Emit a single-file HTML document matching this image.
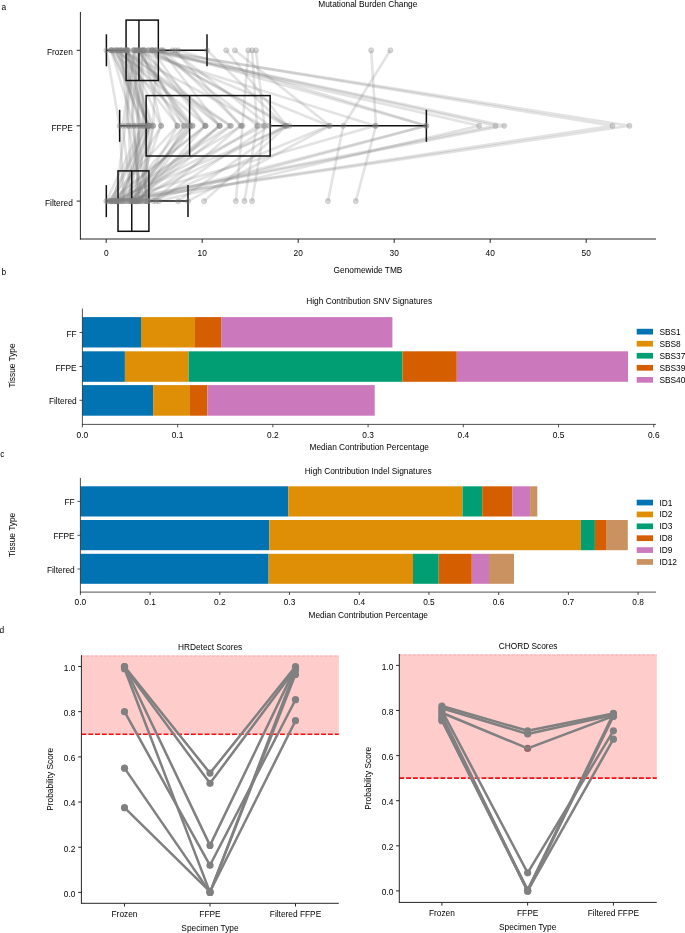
<!DOCTYPE html>
<html><head><meta charset="utf-8"><style>
html,body{margin:0;padding:0;background:#fff;width:685px;height:933px;overflow:hidden}
svg{display:block;will-change:transform}
text{font-family:"Liberation Sans", sans-serif;fill:#000}
</style></head><body>
<svg width="685" height="933" viewBox="0 0 685 933">
<rect width="685" height="933" fill="#fff"/>
<text x="1.50" y="9.90" text-anchor="start" font-size="8.33" >a</text>
<text x="367.80" y="6.50" text-anchor="middle" font-size="8.33" >Mutational Burden Change</text>
<polyline points="371.16,50.3 375.96,125.8 355.80,201.1" fill="none" stroke="rgba(128,128,128,0.22)" stroke-width="2.6" stroke-linejoin="round"/>
<polyline points="390.36,50.3 343.32,125.8 327.96,201.1" fill="none" stroke="rgba(128,128,128,0.22)" stroke-width="2.6" stroke-linejoin="round"/>
<polyline points="255.96,50.3 264.60,125.8 252.12,201.1" fill="none" stroke="rgba(128,128,128,0.22)" stroke-width="2.6" stroke-linejoin="round"/>
<polyline points="252.12,50.3 256.92,125.8 244.44,201.1" fill="none" stroke="rgba(128,128,128,0.22)" stroke-width="2.6" stroke-linejoin="round"/>
<polyline points="248.28,50.3 242.52,125.8 235.80,201.1" fill="none" stroke="rgba(128,128,128,0.22)" stroke-width="2.6" stroke-linejoin="round"/>
<polyline points="226.20,50.3 286.68,125.8 204.12,201.1" fill="none" stroke="rgba(128,128,128,0.22)" stroke-width="2.6" stroke-linejoin="round"/>
<polyline points="234.84,50.3 329.88,125.8 187.99,201.1" fill="none" stroke="rgba(128,128,128,0.22)" stroke-width="2.6" stroke-linejoin="round"/>
<polyline points="155.16,50.3 612.41,125.8 117.24,201.1" fill="none" stroke="rgba(128,128,128,0.22)" stroke-width="2.6" stroke-linejoin="round"/>
<polyline points="152.76,50.3 629.40,125.8 116.28,201.1" fill="none" stroke="rgba(128,128,128,0.22)" stroke-width="2.6" stroke-linejoin="round"/>
<polyline points="151.80,50.3 495.58,125.8 115.32,201.1" fill="none" stroke="rgba(128,128,128,0.22)" stroke-width="2.6" stroke-linejoin="round"/>
<polyline points="150.36,50.3 504.22,125.8 117.72,201.1" fill="none" stroke="rgba(128,128,128,0.22)" stroke-width="2.6" stroke-linejoin="round"/>
<polyline points="148.44,50.3 479.16,125.8 159.00,201.1" fill="none" stroke="rgba(128,128,128,0.22)" stroke-width="2.6" stroke-linejoin="round"/>
<polyline points="178.20,50.3 426.36,125.8 146.52,201.1" fill="none" stroke="rgba(128,128,128,0.22)" stroke-width="2.6" stroke-linejoin="round"/>
<polyline points="207.00,50.3 284.76,125.8 178.20,201.1" fill="none" stroke="rgba(128,128,128,0.22)" stroke-width="2.6" stroke-linejoin="round"/>
<polyline points="175.32,50.3 240.60,125.8 153.24,201.1" fill="none" stroke="rgba(128,128,128,0.22)" stroke-width="2.6" stroke-linejoin="round"/>
<polyline points="172.44,50.3 269.40,125.8 156.12,201.1" fill="none" stroke="rgba(128,128,128,0.22)" stroke-width="2.6" stroke-linejoin="round"/>
<polyline points="117.24,50.3 205.56,125.8 109.08,201.1" fill="none" stroke="rgba(128,128,128,0.22)" stroke-width="2.6" stroke-linejoin="round"/>
<polyline points="128.28,50.3 160.92,125.8 134.04,201.1" fill="none" stroke="rgba(128,128,128,0.22)" stroke-width="2.6" stroke-linejoin="round"/>
<polyline points="113.88,50.3 230.04,125.8 111.96,201.1" fill="none" stroke="rgba(128,128,128,0.22)" stroke-width="2.6" stroke-linejoin="round"/>
<polyline points="138.84,50.3 189.72,125.8 130.68,201.1" fill="none" stroke="rgba(128,128,128,0.22)" stroke-width="2.6" stroke-linejoin="round"/>
<polyline points="140.76,50.3 219.48,125.8 135.96,201.1" fill="none" stroke="rgba(128,128,128,0.22)" stroke-width="2.6" stroke-linejoin="round"/>
<polyline points="136.92,50.3 192.60,125.8 125.40,201.1" fill="none" stroke="rgba(128,128,128,0.22)" stroke-width="2.6" stroke-linejoin="round"/>
<polyline points="118.68,50.3 139.80,125.8 129.72,201.1" fill="none" stroke="rgba(128,128,128,0.22)" stroke-width="2.6" stroke-linejoin="round"/>
<polyline points="127.32,50.3 145.56,125.8 145.56,201.1" fill="none" stroke="rgba(128,128,128,0.22)" stroke-width="2.6" stroke-linejoin="round"/>
<polyline points="124.92,50.3 219.96,125.8 128.28,201.1" fill="none" stroke="rgba(128,128,128,0.22)" stroke-width="2.6" stroke-linejoin="round"/>
<polyline points="126.36,50.3 151.32,125.8 119.64,201.1" fill="none" stroke="rgba(128,128,128,0.22)" stroke-width="2.6" stroke-linejoin="round"/>
<polyline points="139.80,50.3 177.24,125.8 107.64,201.1" fill="none" stroke="rgba(128,128,128,0.22)" stroke-width="2.6" stroke-linejoin="round"/>
<polyline points="111.96,50.3 143.64,125.8 122.52,201.1" fill="none" stroke="rgba(128,128,128,0.22)" stroke-width="2.6" stroke-linejoin="round"/>
<polyline points="143.64,50.3 183.96,125.8 121.08,201.1" fill="none" stroke="rgba(128,128,128,0.22)" stroke-width="2.6" stroke-linejoin="round"/>
<polyline points="156.12,50.3 153.24,125.8 141.72,201.1" fill="none" stroke="rgba(128,128,128,0.22)" stroke-width="2.6" stroke-linejoin="round"/>
<polyline points="111.00,50.3 148.44,125.8 126.84,201.1" fill="none" stroke="rgba(128,128,128,0.22)" stroke-width="2.6" stroke-linejoin="round"/>
<polyline points="135.96,50.3 146.52,125.8 113.40,201.1" fill="none" stroke="rgba(128,128,128,0.22)" stroke-width="2.6" stroke-linejoin="round"/>
<polyline points="120.12,50.3 149.40,125.8 118.20,201.1" fill="none" stroke="rgba(128,128,128,0.22)" stroke-width="2.6" stroke-linejoin="round"/>
<polyline points="135.00,50.3 125.40,125.8 114.84,201.1" fill="none" stroke="rgba(128,128,128,0.22)" stroke-width="2.6" stroke-linejoin="round"/>
<polyline points="137.88,50.3 187.80,125.8 132.12,201.1" fill="none" stroke="rgba(128,128,128,0.22)" stroke-width="2.6" stroke-linejoin="round"/>
<polyline points="106.39,50.3 119.64,125.8 123.96,201.1" fill="none" stroke="rgba(128,128,128,0.22)" stroke-width="2.6" stroke-linejoin="round"/>
<polyline points="134.04,50.3 122.52,125.8 131.64,201.1" fill="none" stroke="rgba(128,128,128,0.22)" stroke-width="2.6" stroke-linejoin="round"/>
<polyline points="138.36,50.3 131.16,125.8 148.44,201.1" fill="none" stroke="rgba(128,128,128,0.22)" stroke-width="2.6" stroke-linejoin="round"/>
<polyline points="145.08,50.3 205.08,125.8 137.88,201.1" fill="none" stroke="rgba(128,128,128,0.22)" stroke-width="2.6" stroke-linejoin="round"/>
<polyline points="115.80,50.3 141.72,125.8 106.30,201.1" fill="none" stroke="rgba(128,128,128,0.22)" stroke-width="2.6" stroke-linejoin="round"/>
<polyline points="142.20,50.3 136.92,125.8 147.48,201.1" fill="none" stroke="rgba(128,128,128,0.22)" stroke-width="2.6" stroke-linejoin="round"/>
<polyline points="126.84,50.3 134.04,125.8 139.80,201.1" fill="none" stroke="rgba(128,128,128,0.22)" stroke-width="2.6" stroke-linejoin="round"/>
<polyline points="125.40,50.3 147.48,125.8 110.52,201.1" fill="none" stroke="rgba(128,128,128,0.22)" stroke-width="2.6" stroke-linejoin="round"/>
<polyline points="121.56,50.3 128.28,125.8 143.64,201.1" fill="none" stroke="rgba(128,128,128,0.22)" stroke-width="2.6" stroke-linejoin="round"/>
<polyline points="126.42,50.3 128.88,125.8 131.32,201.1" fill="none" stroke="rgba(128,128,128,0.22)" stroke-width="2.6" stroke-linejoin="round"/>
<polyline points="111.21,50.3 134.00,125.8 139.08,201.1" fill="none" stroke="rgba(128,128,128,0.22)" stroke-width="2.6" stroke-linejoin="round"/>
<polyline points="134.06,50.3 139.08,125.8 136.34,201.1" fill="none" stroke="rgba(128,128,128,0.22)" stroke-width="2.6" stroke-linejoin="round"/>
<polyline points="142.13,50.3 143.45,125.8 110.91,201.1" fill="none" stroke="rgba(128,128,128,0.22)" stroke-width="2.6" stroke-linejoin="round"/>
<polyline points="115.45,50.3 148.69,125.8 145.61,201.1" fill="none" stroke="rgba(128,128,128,0.22)" stroke-width="2.6" stroke-linejoin="round"/>
<polyline points="117.31,50.3 148.95,125.8 133.17,201.1" fill="none" stroke="rgba(128,128,128,0.22)" stroke-width="2.6" stroke-linejoin="round"/>
<polyline points="127.74,50.3 152.93,125.8 137.78,201.1" fill="none" stroke="rgba(128,128,128,0.22)" stroke-width="2.6" stroke-linejoin="round"/>
<polyline points="143.25,50.3 161.26,125.8 116.19,201.1" fill="none" stroke="rgba(128,128,128,0.22)" stroke-width="2.6" stroke-linejoin="round"/>
<polyline points="120.04,50.3 177.75,125.8 134.31,201.1" fill="none" stroke="rgba(128,128,128,0.22)" stroke-width="2.6" stroke-linejoin="round"/>
<polyline points="125.36,50.3 184.24,125.8 141.01,201.1" fill="none" stroke="rgba(128,128,128,0.22)" stroke-width="2.6" stroke-linejoin="round"/>
<polyline points="111.11,50.3 192.49,125.8 138.48,201.1" fill="none" stroke="rgba(128,128,128,0.22)" stroke-width="2.6" stroke-linejoin="round"/>
<polyline points="152.65,50.3 205.66,125.8 111.38,201.1" fill="none" stroke="rgba(128,128,128,0.22)" stroke-width="2.6" stroke-linejoin="round"/>
<polyline points="152.24,50.3 285.72,125.8 132.55,201.1" fill="none" stroke="rgba(128,128,128,0.22)" stroke-width="2.6" stroke-linejoin="round"/>
<polyline points="148.48,50.3 289.56,125.8 111.71,201.1" fill="none" stroke="rgba(128,128,128,0.22)" stroke-width="2.6" stroke-linejoin="round"/>
<polyline points="144.30,50.3 328.92,125.8 147.67,201.1" fill="none" stroke="rgba(128,128,128,0.22)" stroke-width="2.6" stroke-linejoin="round"/>
<polyline points="133.36,50.3 375.00,125.8 112.65,201.1" fill="none" stroke="rgba(128,128,128,0.22)" stroke-width="2.6" stroke-linejoin="round"/>
<polyline points="161.60,50.3 425.88,125.8 135.38,201.1" fill="none" stroke="rgba(128,128,128,0.22)" stroke-width="2.6" stroke-linejoin="round"/>
<polyline points="121.41,50.3 231.00,125.8 135.22,201.1" fill="none" stroke="rgba(128,128,128,0.22)" stroke-width="2.6" stroke-linejoin="round"/>
<polyline points="163.42,50.3 241.56,125.8 116.57,201.1" fill="none" stroke="rgba(128,128,128,0.22)" stroke-width="2.6" stroke-linejoin="round"/>
<polyline points="156.08,50.3 257.88,125.8 136.30,201.1" fill="none" stroke="rgba(128,128,128,0.22)" stroke-width="2.6" stroke-linejoin="round"/>
<polyline points="122.70,50.3 263.64,125.8 115.57,201.1" fill="none" stroke="rgba(128,128,128,0.22)" stroke-width="2.6" stroke-linejoin="round"/>
<polyline points="161.38,50.3 219.48,125.8 121.85,201.1" fill="none" stroke="rgba(128,128,128,0.22)" stroke-width="2.6" stroke-linejoin="round"/>
<line x1="106.39" y1="50.30" x2="126.07" y2="50.30" stroke="#111" stroke-width="1.5" />
<line x1="158.33" y1="50.30" x2="207.00" y2="50.30" stroke="#111" stroke-width="1.5" />
<rect x="126.07" y="20.10" width="32.26" height="60.40" fill="none" stroke="#111" stroke-width="1.5"/>
<line x1="138.94" y1="20.10" x2="138.94" y2="80.50" stroke="#111" stroke-width="1.5" />
<line x1="106.39" y1="34.30" x2="106.39" y2="66.30" stroke="#111" stroke-width="1.5" />
<line x1="207.00" y1="34.30" x2="207.00" y2="66.30" stroke="#111" stroke-width="1.5" />
<line x1="119.64" y1="125.80" x2="146.14" y2="125.80" stroke="#111" stroke-width="1.5" />
<line x1="270.17" y1="125.80" x2="426.36" y2="125.80" stroke="#111" stroke-width="1.5" />
<rect x="146.14" y="95.60" width="124.03" height="60.40" fill="none" stroke="#111" stroke-width="1.5"/>
<line x1="189.62" y1="95.60" x2="189.62" y2="156.00" stroke="#111" stroke-width="1.5" />
<line x1="119.64" y1="109.80" x2="119.64" y2="141.80" stroke="#111" stroke-width="1.5" />
<line x1="426.36" y1="109.80" x2="426.36" y2="141.80" stroke="#111" stroke-width="1.5" />
<line x1="106.30" y1="201.10" x2="118.01" y2="201.10" stroke="#111" stroke-width="1.5" />
<line x1="148.92" y1="201.10" x2="187.99" y2="201.10" stroke="#111" stroke-width="1.5" />
<rect x="118.01" y="170.90" width="30.91" height="60.40" fill="none" stroke="#111" stroke-width="1.5"/>
<line x1="131.74" y1="170.90" x2="131.74" y2="231.30" stroke="#111" stroke-width="1.5" />
<line x1="106.30" y1="185.10" x2="106.30" y2="217.10" stroke="#111" stroke-width="1.5" />
<line x1="187.99" y1="185.10" x2="187.99" y2="217.10" stroke="#111" stroke-width="1.5" />
<circle cx="371.16" cy="50.3" r="2.6" fill="rgba(128,128,128,0.3)" stroke="rgba(128,128,128,0.3)" stroke-width="0.8"/>
<circle cx="375.96" cy="125.8" r="2.6" fill="rgba(128,128,128,0.3)" stroke="rgba(128,128,128,0.3)" stroke-width="0.8"/>
<circle cx="355.80" cy="201.1" r="2.6" fill="rgba(128,128,128,0.3)" stroke="rgba(128,128,128,0.3)" stroke-width="0.8"/>
<circle cx="390.36" cy="50.3" r="2.6" fill="rgba(128,128,128,0.3)" stroke="rgba(128,128,128,0.3)" stroke-width="0.8"/>
<circle cx="343.32" cy="125.8" r="2.6" fill="rgba(128,128,128,0.3)" stroke="rgba(128,128,128,0.3)" stroke-width="0.8"/>
<circle cx="327.96" cy="201.1" r="2.6" fill="rgba(128,128,128,0.3)" stroke="rgba(128,128,128,0.3)" stroke-width="0.8"/>
<circle cx="255.96" cy="50.3" r="2.6" fill="rgba(128,128,128,0.3)" stroke="rgba(128,128,128,0.3)" stroke-width="0.8"/>
<circle cx="264.60" cy="125.8" r="2.6" fill="rgba(128,128,128,0.3)" stroke="rgba(128,128,128,0.3)" stroke-width="0.8"/>
<circle cx="252.12" cy="201.1" r="2.6" fill="rgba(128,128,128,0.3)" stroke="rgba(128,128,128,0.3)" stroke-width="0.8"/>
<circle cx="252.12" cy="50.3" r="2.6" fill="rgba(128,128,128,0.3)" stroke="rgba(128,128,128,0.3)" stroke-width="0.8"/>
<circle cx="256.92" cy="125.8" r="2.6" fill="rgba(128,128,128,0.3)" stroke="rgba(128,128,128,0.3)" stroke-width="0.8"/>
<circle cx="244.44" cy="201.1" r="2.6" fill="rgba(128,128,128,0.3)" stroke="rgba(128,128,128,0.3)" stroke-width="0.8"/>
<circle cx="248.28" cy="50.3" r="2.6" fill="rgba(128,128,128,0.3)" stroke="rgba(128,128,128,0.3)" stroke-width="0.8"/>
<circle cx="242.52" cy="125.8" r="2.6" fill="rgba(128,128,128,0.3)" stroke="rgba(128,128,128,0.3)" stroke-width="0.8"/>
<circle cx="235.80" cy="201.1" r="2.6" fill="rgba(128,128,128,0.3)" stroke="rgba(128,128,128,0.3)" stroke-width="0.8"/>
<circle cx="226.20" cy="50.3" r="2.6" fill="rgba(128,128,128,0.3)" stroke="rgba(128,128,128,0.3)" stroke-width="0.8"/>
<circle cx="286.68" cy="125.8" r="2.6" fill="rgba(128,128,128,0.3)" stroke="rgba(128,128,128,0.3)" stroke-width="0.8"/>
<circle cx="204.12" cy="201.1" r="2.6" fill="rgba(128,128,128,0.3)" stroke="rgba(128,128,128,0.3)" stroke-width="0.8"/>
<circle cx="234.84" cy="50.3" r="2.6" fill="rgba(128,128,128,0.3)" stroke="rgba(128,128,128,0.3)" stroke-width="0.8"/>
<circle cx="329.88" cy="125.8" r="2.6" fill="rgba(128,128,128,0.3)" stroke="rgba(128,128,128,0.3)" stroke-width="0.8"/>
<circle cx="187.99" cy="201.1" r="2.6" fill="rgba(128,128,128,0.3)" stroke="rgba(128,128,128,0.3)" stroke-width="0.8"/>
<circle cx="155.16" cy="50.3" r="2.6" fill="rgba(128,128,128,0.3)" stroke="rgba(128,128,128,0.3)" stroke-width="0.8"/>
<circle cx="612.41" cy="125.8" r="2.6" fill="rgba(128,128,128,0.3)" stroke="rgba(128,128,128,0.3)" stroke-width="0.8"/>
<circle cx="117.24" cy="201.1" r="2.6" fill="rgba(128,128,128,0.3)" stroke="rgba(128,128,128,0.3)" stroke-width="0.8"/>
<circle cx="152.76" cy="50.3" r="2.6" fill="rgba(128,128,128,0.3)" stroke="rgba(128,128,128,0.3)" stroke-width="0.8"/>
<circle cx="629.40" cy="125.8" r="2.6" fill="rgba(128,128,128,0.3)" stroke="rgba(128,128,128,0.3)" stroke-width="0.8"/>
<circle cx="116.28" cy="201.1" r="2.6" fill="rgba(128,128,128,0.3)" stroke="rgba(128,128,128,0.3)" stroke-width="0.8"/>
<circle cx="151.80" cy="50.3" r="2.6" fill="rgba(128,128,128,0.3)" stroke="rgba(128,128,128,0.3)" stroke-width="0.8"/>
<circle cx="495.58" cy="125.8" r="2.6" fill="rgba(128,128,128,0.3)" stroke="rgba(128,128,128,0.3)" stroke-width="0.8"/>
<circle cx="115.32" cy="201.1" r="2.6" fill="rgba(128,128,128,0.3)" stroke="rgba(128,128,128,0.3)" stroke-width="0.8"/>
<circle cx="150.36" cy="50.3" r="2.6" fill="rgba(128,128,128,0.3)" stroke="rgba(128,128,128,0.3)" stroke-width="0.8"/>
<circle cx="504.22" cy="125.8" r="2.6" fill="rgba(128,128,128,0.3)" stroke="rgba(128,128,128,0.3)" stroke-width="0.8"/>
<circle cx="117.72" cy="201.1" r="2.6" fill="rgba(128,128,128,0.3)" stroke="rgba(128,128,128,0.3)" stroke-width="0.8"/>
<circle cx="148.44" cy="50.3" r="2.6" fill="rgba(128,128,128,0.3)" stroke="rgba(128,128,128,0.3)" stroke-width="0.8"/>
<circle cx="479.16" cy="125.8" r="2.6" fill="rgba(128,128,128,0.3)" stroke="rgba(128,128,128,0.3)" stroke-width="0.8"/>
<circle cx="159.00" cy="201.1" r="2.6" fill="rgba(128,128,128,0.3)" stroke="rgba(128,128,128,0.3)" stroke-width="0.8"/>
<circle cx="178.20" cy="50.3" r="2.6" fill="rgba(128,128,128,0.3)" stroke="rgba(128,128,128,0.3)" stroke-width="0.8"/>
<circle cx="426.36" cy="125.8" r="2.6" fill="rgba(128,128,128,0.3)" stroke="rgba(128,128,128,0.3)" stroke-width="0.8"/>
<circle cx="146.52" cy="201.1" r="2.6" fill="rgba(128,128,128,0.3)" stroke="rgba(128,128,128,0.3)" stroke-width="0.8"/>
<circle cx="207.00" cy="50.3" r="2.6" fill="rgba(128,128,128,0.3)" stroke="rgba(128,128,128,0.3)" stroke-width="0.8"/>
<circle cx="284.76" cy="125.8" r="2.6" fill="rgba(128,128,128,0.3)" stroke="rgba(128,128,128,0.3)" stroke-width="0.8"/>
<circle cx="178.20" cy="201.1" r="2.6" fill="rgba(128,128,128,0.3)" stroke="rgba(128,128,128,0.3)" stroke-width="0.8"/>
<circle cx="175.32" cy="50.3" r="2.6" fill="rgba(128,128,128,0.3)" stroke="rgba(128,128,128,0.3)" stroke-width="0.8"/>
<circle cx="240.60" cy="125.8" r="2.6" fill="rgba(128,128,128,0.3)" stroke="rgba(128,128,128,0.3)" stroke-width="0.8"/>
<circle cx="153.24" cy="201.1" r="2.6" fill="rgba(128,128,128,0.3)" stroke="rgba(128,128,128,0.3)" stroke-width="0.8"/>
<circle cx="172.44" cy="50.3" r="2.6" fill="rgba(128,128,128,0.3)" stroke="rgba(128,128,128,0.3)" stroke-width="0.8"/>
<circle cx="269.40" cy="125.8" r="2.6" fill="rgba(128,128,128,0.3)" stroke="rgba(128,128,128,0.3)" stroke-width="0.8"/>
<circle cx="156.12" cy="201.1" r="2.6" fill="rgba(128,128,128,0.3)" stroke="rgba(128,128,128,0.3)" stroke-width="0.8"/>
<circle cx="117.24" cy="50.3" r="2.6" fill="rgba(128,128,128,0.3)" stroke="rgba(128,128,128,0.3)" stroke-width="0.8"/>
<circle cx="205.56" cy="125.8" r="2.6" fill="rgba(128,128,128,0.3)" stroke="rgba(128,128,128,0.3)" stroke-width="0.8"/>
<circle cx="109.08" cy="201.1" r="2.6" fill="rgba(128,128,128,0.3)" stroke="rgba(128,128,128,0.3)" stroke-width="0.8"/>
<circle cx="128.28" cy="50.3" r="2.6" fill="rgba(128,128,128,0.3)" stroke="rgba(128,128,128,0.3)" stroke-width="0.8"/>
<circle cx="160.92" cy="125.8" r="2.6" fill="rgba(128,128,128,0.3)" stroke="rgba(128,128,128,0.3)" stroke-width="0.8"/>
<circle cx="134.04" cy="201.1" r="2.6" fill="rgba(128,128,128,0.3)" stroke="rgba(128,128,128,0.3)" stroke-width="0.8"/>
<circle cx="113.88" cy="50.3" r="2.6" fill="rgba(128,128,128,0.3)" stroke="rgba(128,128,128,0.3)" stroke-width="0.8"/>
<circle cx="230.04" cy="125.8" r="2.6" fill="rgba(128,128,128,0.3)" stroke="rgba(128,128,128,0.3)" stroke-width="0.8"/>
<circle cx="111.96" cy="201.1" r="2.6" fill="rgba(128,128,128,0.3)" stroke="rgba(128,128,128,0.3)" stroke-width="0.8"/>
<circle cx="138.84" cy="50.3" r="2.6" fill="rgba(128,128,128,0.3)" stroke="rgba(128,128,128,0.3)" stroke-width="0.8"/>
<circle cx="189.72" cy="125.8" r="2.6" fill="rgba(128,128,128,0.3)" stroke="rgba(128,128,128,0.3)" stroke-width="0.8"/>
<circle cx="130.68" cy="201.1" r="2.6" fill="rgba(128,128,128,0.3)" stroke="rgba(128,128,128,0.3)" stroke-width="0.8"/>
<circle cx="140.76" cy="50.3" r="2.6" fill="rgba(128,128,128,0.3)" stroke="rgba(128,128,128,0.3)" stroke-width="0.8"/>
<circle cx="219.48" cy="125.8" r="2.6" fill="rgba(128,128,128,0.3)" stroke="rgba(128,128,128,0.3)" stroke-width="0.8"/>
<circle cx="135.96" cy="201.1" r="2.6" fill="rgba(128,128,128,0.3)" stroke="rgba(128,128,128,0.3)" stroke-width="0.8"/>
<circle cx="136.92" cy="50.3" r="2.6" fill="rgba(128,128,128,0.3)" stroke="rgba(128,128,128,0.3)" stroke-width="0.8"/>
<circle cx="192.60" cy="125.8" r="2.6" fill="rgba(128,128,128,0.3)" stroke="rgba(128,128,128,0.3)" stroke-width="0.8"/>
<circle cx="125.40" cy="201.1" r="2.6" fill="rgba(128,128,128,0.3)" stroke="rgba(128,128,128,0.3)" stroke-width="0.8"/>
<circle cx="118.68" cy="50.3" r="2.6" fill="rgba(128,128,128,0.3)" stroke="rgba(128,128,128,0.3)" stroke-width="0.8"/>
<circle cx="139.80" cy="125.8" r="2.6" fill="rgba(128,128,128,0.3)" stroke="rgba(128,128,128,0.3)" stroke-width="0.8"/>
<circle cx="129.72" cy="201.1" r="2.6" fill="rgba(128,128,128,0.3)" stroke="rgba(128,128,128,0.3)" stroke-width="0.8"/>
<circle cx="127.32" cy="50.3" r="2.6" fill="rgba(128,128,128,0.3)" stroke="rgba(128,128,128,0.3)" stroke-width="0.8"/>
<circle cx="145.56" cy="125.8" r="2.6" fill="rgba(128,128,128,0.3)" stroke="rgba(128,128,128,0.3)" stroke-width="0.8"/>
<circle cx="145.56" cy="201.1" r="2.6" fill="rgba(128,128,128,0.3)" stroke="rgba(128,128,128,0.3)" stroke-width="0.8"/>
<circle cx="124.92" cy="50.3" r="2.6" fill="rgba(128,128,128,0.3)" stroke="rgba(128,128,128,0.3)" stroke-width="0.8"/>
<circle cx="219.96" cy="125.8" r="2.6" fill="rgba(128,128,128,0.3)" stroke="rgba(128,128,128,0.3)" stroke-width="0.8"/>
<circle cx="128.28" cy="201.1" r="2.6" fill="rgba(128,128,128,0.3)" stroke="rgba(128,128,128,0.3)" stroke-width="0.8"/>
<circle cx="126.36" cy="50.3" r="2.6" fill="rgba(128,128,128,0.3)" stroke="rgba(128,128,128,0.3)" stroke-width="0.8"/>
<circle cx="151.32" cy="125.8" r="2.6" fill="rgba(128,128,128,0.3)" stroke="rgba(128,128,128,0.3)" stroke-width="0.8"/>
<circle cx="119.64" cy="201.1" r="2.6" fill="rgba(128,128,128,0.3)" stroke="rgba(128,128,128,0.3)" stroke-width="0.8"/>
<circle cx="139.80" cy="50.3" r="2.6" fill="rgba(128,128,128,0.3)" stroke="rgba(128,128,128,0.3)" stroke-width="0.8"/>
<circle cx="177.24" cy="125.8" r="2.6" fill="rgba(128,128,128,0.3)" stroke="rgba(128,128,128,0.3)" stroke-width="0.8"/>
<circle cx="107.64" cy="201.1" r="2.6" fill="rgba(128,128,128,0.3)" stroke="rgba(128,128,128,0.3)" stroke-width="0.8"/>
<circle cx="111.96" cy="50.3" r="2.6" fill="rgba(128,128,128,0.3)" stroke="rgba(128,128,128,0.3)" stroke-width="0.8"/>
<circle cx="143.64" cy="125.8" r="2.6" fill="rgba(128,128,128,0.3)" stroke="rgba(128,128,128,0.3)" stroke-width="0.8"/>
<circle cx="122.52" cy="201.1" r="2.6" fill="rgba(128,128,128,0.3)" stroke="rgba(128,128,128,0.3)" stroke-width="0.8"/>
<circle cx="143.64" cy="50.3" r="2.6" fill="rgba(128,128,128,0.3)" stroke="rgba(128,128,128,0.3)" stroke-width="0.8"/>
<circle cx="183.96" cy="125.8" r="2.6" fill="rgba(128,128,128,0.3)" stroke="rgba(128,128,128,0.3)" stroke-width="0.8"/>
<circle cx="121.08" cy="201.1" r="2.6" fill="rgba(128,128,128,0.3)" stroke="rgba(128,128,128,0.3)" stroke-width="0.8"/>
<circle cx="156.12" cy="50.3" r="2.6" fill="rgba(128,128,128,0.3)" stroke="rgba(128,128,128,0.3)" stroke-width="0.8"/>
<circle cx="153.24" cy="125.8" r="2.6" fill="rgba(128,128,128,0.3)" stroke="rgba(128,128,128,0.3)" stroke-width="0.8"/>
<circle cx="141.72" cy="201.1" r="2.6" fill="rgba(128,128,128,0.3)" stroke="rgba(128,128,128,0.3)" stroke-width="0.8"/>
<circle cx="111.00" cy="50.3" r="2.6" fill="rgba(128,128,128,0.3)" stroke="rgba(128,128,128,0.3)" stroke-width="0.8"/>
<circle cx="148.44" cy="125.8" r="2.6" fill="rgba(128,128,128,0.3)" stroke="rgba(128,128,128,0.3)" stroke-width="0.8"/>
<circle cx="126.84" cy="201.1" r="2.6" fill="rgba(128,128,128,0.3)" stroke="rgba(128,128,128,0.3)" stroke-width="0.8"/>
<circle cx="135.96" cy="50.3" r="2.6" fill="rgba(128,128,128,0.3)" stroke="rgba(128,128,128,0.3)" stroke-width="0.8"/>
<circle cx="146.52" cy="125.8" r="2.6" fill="rgba(128,128,128,0.3)" stroke="rgba(128,128,128,0.3)" stroke-width="0.8"/>
<circle cx="113.40" cy="201.1" r="2.6" fill="rgba(128,128,128,0.3)" stroke="rgba(128,128,128,0.3)" stroke-width="0.8"/>
<circle cx="120.12" cy="50.3" r="2.6" fill="rgba(128,128,128,0.3)" stroke="rgba(128,128,128,0.3)" stroke-width="0.8"/>
<circle cx="149.40" cy="125.8" r="2.6" fill="rgba(128,128,128,0.3)" stroke="rgba(128,128,128,0.3)" stroke-width="0.8"/>
<circle cx="118.20" cy="201.1" r="2.6" fill="rgba(128,128,128,0.3)" stroke="rgba(128,128,128,0.3)" stroke-width="0.8"/>
<circle cx="135.00" cy="50.3" r="2.6" fill="rgba(128,128,128,0.3)" stroke="rgba(128,128,128,0.3)" stroke-width="0.8"/>
<circle cx="125.40" cy="125.8" r="2.6" fill="rgba(128,128,128,0.3)" stroke="rgba(128,128,128,0.3)" stroke-width="0.8"/>
<circle cx="114.84" cy="201.1" r="2.6" fill="rgba(128,128,128,0.3)" stroke="rgba(128,128,128,0.3)" stroke-width="0.8"/>
<circle cx="137.88" cy="50.3" r="2.6" fill="rgba(128,128,128,0.3)" stroke="rgba(128,128,128,0.3)" stroke-width="0.8"/>
<circle cx="187.80" cy="125.8" r="2.6" fill="rgba(128,128,128,0.3)" stroke="rgba(128,128,128,0.3)" stroke-width="0.8"/>
<circle cx="132.12" cy="201.1" r="2.6" fill="rgba(128,128,128,0.3)" stroke="rgba(128,128,128,0.3)" stroke-width="0.8"/>
<circle cx="106.39" cy="50.3" r="2.6" fill="rgba(128,128,128,0.3)" stroke="rgba(128,128,128,0.3)" stroke-width="0.8"/>
<circle cx="119.64" cy="125.8" r="2.6" fill="rgba(128,128,128,0.3)" stroke="rgba(128,128,128,0.3)" stroke-width="0.8"/>
<circle cx="123.96" cy="201.1" r="2.6" fill="rgba(128,128,128,0.3)" stroke="rgba(128,128,128,0.3)" stroke-width="0.8"/>
<circle cx="134.04" cy="50.3" r="2.6" fill="rgba(128,128,128,0.3)" stroke="rgba(128,128,128,0.3)" stroke-width="0.8"/>
<circle cx="122.52" cy="125.8" r="2.6" fill="rgba(128,128,128,0.3)" stroke="rgba(128,128,128,0.3)" stroke-width="0.8"/>
<circle cx="131.64" cy="201.1" r="2.6" fill="rgba(128,128,128,0.3)" stroke="rgba(128,128,128,0.3)" stroke-width="0.8"/>
<circle cx="138.36" cy="50.3" r="2.6" fill="rgba(128,128,128,0.3)" stroke="rgba(128,128,128,0.3)" stroke-width="0.8"/>
<circle cx="131.16" cy="125.8" r="2.6" fill="rgba(128,128,128,0.3)" stroke="rgba(128,128,128,0.3)" stroke-width="0.8"/>
<circle cx="148.44" cy="201.1" r="2.6" fill="rgba(128,128,128,0.3)" stroke="rgba(128,128,128,0.3)" stroke-width="0.8"/>
<circle cx="145.08" cy="50.3" r="2.6" fill="rgba(128,128,128,0.3)" stroke="rgba(128,128,128,0.3)" stroke-width="0.8"/>
<circle cx="205.08" cy="125.8" r="2.6" fill="rgba(128,128,128,0.3)" stroke="rgba(128,128,128,0.3)" stroke-width="0.8"/>
<circle cx="137.88" cy="201.1" r="2.6" fill="rgba(128,128,128,0.3)" stroke="rgba(128,128,128,0.3)" stroke-width="0.8"/>
<circle cx="115.80" cy="50.3" r="2.6" fill="rgba(128,128,128,0.3)" stroke="rgba(128,128,128,0.3)" stroke-width="0.8"/>
<circle cx="141.72" cy="125.8" r="2.6" fill="rgba(128,128,128,0.3)" stroke="rgba(128,128,128,0.3)" stroke-width="0.8"/>
<circle cx="106.30" cy="201.1" r="2.6" fill="rgba(128,128,128,0.3)" stroke="rgba(128,128,128,0.3)" stroke-width="0.8"/>
<circle cx="142.20" cy="50.3" r="2.6" fill="rgba(128,128,128,0.3)" stroke="rgba(128,128,128,0.3)" stroke-width="0.8"/>
<circle cx="136.92" cy="125.8" r="2.6" fill="rgba(128,128,128,0.3)" stroke="rgba(128,128,128,0.3)" stroke-width="0.8"/>
<circle cx="147.48" cy="201.1" r="2.6" fill="rgba(128,128,128,0.3)" stroke="rgba(128,128,128,0.3)" stroke-width="0.8"/>
<circle cx="126.84" cy="50.3" r="2.6" fill="rgba(128,128,128,0.3)" stroke="rgba(128,128,128,0.3)" stroke-width="0.8"/>
<circle cx="134.04" cy="125.8" r="2.6" fill="rgba(128,128,128,0.3)" stroke="rgba(128,128,128,0.3)" stroke-width="0.8"/>
<circle cx="139.80" cy="201.1" r="2.6" fill="rgba(128,128,128,0.3)" stroke="rgba(128,128,128,0.3)" stroke-width="0.8"/>
<circle cx="125.40" cy="50.3" r="2.6" fill="rgba(128,128,128,0.3)" stroke="rgba(128,128,128,0.3)" stroke-width="0.8"/>
<circle cx="147.48" cy="125.8" r="2.6" fill="rgba(128,128,128,0.3)" stroke="rgba(128,128,128,0.3)" stroke-width="0.8"/>
<circle cx="110.52" cy="201.1" r="2.6" fill="rgba(128,128,128,0.3)" stroke="rgba(128,128,128,0.3)" stroke-width="0.8"/>
<circle cx="121.56" cy="50.3" r="2.6" fill="rgba(128,128,128,0.3)" stroke="rgba(128,128,128,0.3)" stroke-width="0.8"/>
<circle cx="128.28" cy="125.8" r="2.6" fill="rgba(128,128,128,0.3)" stroke="rgba(128,128,128,0.3)" stroke-width="0.8"/>
<circle cx="143.64" cy="201.1" r="2.6" fill="rgba(128,128,128,0.3)" stroke="rgba(128,128,128,0.3)" stroke-width="0.8"/>
<circle cx="126.42" cy="50.3" r="2.6" fill="rgba(128,128,128,0.3)" stroke="rgba(128,128,128,0.3)" stroke-width="0.8"/>
<circle cx="128.88" cy="125.8" r="2.6" fill="rgba(128,128,128,0.3)" stroke="rgba(128,128,128,0.3)" stroke-width="0.8"/>
<circle cx="131.32" cy="201.1" r="2.6" fill="rgba(128,128,128,0.3)" stroke="rgba(128,128,128,0.3)" stroke-width="0.8"/>
<circle cx="111.21" cy="50.3" r="2.6" fill="rgba(128,128,128,0.3)" stroke="rgba(128,128,128,0.3)" stroke-width="0.8"/>
<circle cx="134.00" cy="125.8" r="2.6" fill="rgba(128,128,128,0.3)" stroke="rgba(128,128,128,0.3)" stroke-width="0.8"/>
<circle cx="139.08" cy="201.1" r="2.6" fill="rgba(128,128,128,0.3)" stroke="rgba(128,128,128,0.3)" stroke-width="0.8"/>
<circle cx="134.06" cy="50.3" r="2.6" fill="rgba(128,128,128,0.3)" stroke="rgba(128,128,128,0.3)" stroke-width="0.8"/>
<circle cx="139.08" cy="125.8" r="2.6" fill="rgba(128,128,128,0.3)" stroke="rgba(128,128,128,0.3)" stroke-width="0.8"/>
<circle cx="136.34" cy="201.1" r="2.6" fill="rgba(128,128,128,0.3)" stroke="rgba(128,128,128,0.3)" stroke-width="0.8"/>
<circle cx="142.13" cy="50.3" r="2.6" fill="rgba(128,128,128,0.3)" stroke="rgba(128,128,128,0.3)" stroke-width="0.8"/>
<circle cx="143.45" cy="125.8" r="2.6" fill="rgba(128,128,128,0.3)" stroke="rgba(128,128,128,0.3)" stroke-width="0.8"/>
<circle cx="110.91" cy="201.1" r="2.6" fill="rgba(128,128,128,0.3)" stroke="rgba(128,128,128,0.3)" stroke-width="0.8"/>
<circle cx="115.45" cy="50.3" r="2.6" fill="rgba(128,128,128,0.3)" stroke="rgba(128,128,128,0.3)" stroke-width="0.8"/>
<circle cx="148.69" cy="125.8" r="2.6" fill="rgba(128,128,128,0.3)" stroke="rgba(128,128,128,0.3)" stroke-width="0.8"/>
<circle cx="145.61" cy="201.1" r="2.6" fill="rgba(128,128,128,0.3)" stroke="rgba(128,128,128,0.3)" stroke-width="0.8"/>
<circle cx="117.31" cy="50.3" r="2.6" fill="rgba(128,128,128,0.3)" stroke="rgba(128,128,128,0.3)" stroke-width="0.8"/>
<circle cx="148.95" cy="125.8" r="2.6" fill="rgba(128,128,128,0.3)" stroke="rgba(128,128,128,0.3)" stroke-width="0.8"/>
<circle cx="133.17" cy="201.1" r="2.6" fill="rgba(128,128,128,0.3)" stroke="rgba(128,128,128,0.3)" stroke-width="0.8"/>
<circle cx="127.74" cy="50.3" r="2.6" fill="rgba(128,128,128,0.3)" stroke="rgba(128,128,128,0.3)" stroke-width="0.8"/>
<circle cx="152.93" cy="125.8" r="2.6" fill="rgba(128,128,128,0.3)" stroke="rgba(128,128,128,0.3)" stroke-width="0.8"/>
<circle cx="137.78" cy="201.1" r="2.6" fill="rgba(128,128,128,0.3)" stroke="rgba(128,128,128,0.3)" stroke-width="0.8"/>
<circle cx="143.25" cy="50.3" r="2.6" fill="rgba(128,128,128,0.3)" stroke="rgba(128,128,128,0.3)" stroke-width="0.8"/>
<circle cx="161.26" cy="125.8" r="2.6" fill="rgba(128,128,128,0.3)" stroke="rgba(128,128,128,0.3)" stroke-width="0.8"/>
<circle cx="116.19" cy="201.1" r="2.6" fill="rgba(128,128,128,0.3)" stroke="rgba(128,128,128,0.3)" stroke-width="0.8"/>
<circle cx="120.04" cy="50.3" r="2.6" fill="rgba(128,128,128,0.3)" stroke="rgba(128,128,128,0.3)" stroke-width="0.8"/>
<circle cx="177.75" cy="125.8" r="2.6" fill="rgba(128,128,128,0.3)" stroke="rgba(128,128,128,0.3)" stroke-width="0.8"/>
<circle cx="134.31" cy="201.1" r="2.6" fill="rgba(128,128,128,0.3)" stroke="rgba(128,128,128,0.3)" stroke-width="0.8"/>
<circle cx="125.36" cy="50.3" r="2.6" fill="rgba(128,128,128,0.3)" stroke="rgba(128,128,128,0.3)" stroke-width="0.8"/>
<circle cx="184.24" cy="125.8" r="2.6" fill="rgba(128,128,128,0.3)" stroke="rgba(128,128,128,0.3)" stroke-width="0.8"/>
<circle cx="141.01" cy="201.1" r="2.6" fill="rgba(128,128,128,0.3)" stroke="rgba(128,128,128,0.3)" stroke-width="0.8"/>
<circle cx="111.11" cy="50.3" r="2.6" fill="rgba(128,128,128,0.3)" stroke="rgba(128,128,128,0.3)" stroke-width="0.8"/>
<circle cx="192.49" cy="125.8" r="2.6" fill="rgba(128,128,128,0.3)" stroke="rgba(128,128,128,0.3)" stroke-width="0.8"/>
<circle cx="138.48" cy="201.1" r="2.6" fill="rgba(128,128,128,0.3)" stroke="rgba(128,128,128,0.3)" stroke-width="0.8"/>
<circle cx="152.65" cy="50.3" r="2.6" fill="rgba(128,128,128,0.3)" stroke="rgba(128,128,128,0.3)" stroke-width="0.8"/>
<circle cx="205.66" cy="125.8" r="2.6" fill="rgba(128,128,128,0.3)" stroke="rgba(128,128,128,0.3)" stroke-width="0.8"/>
<circle cx="111.38" cy="201.1" r="2.6" fill="rgba(128,128,128,0.3)" stroke="rgba(128,128,128,0.3)" stroke-width="0.8"/>
<circle cx="152.24" cy="50.3" r="2.6" fill="rgba(128,128,128,0.3)" stroke="rgba(128,128,128,0.3)" stroke-width="0.8"/>
<circle cx="285.72" cy="125.8" r="2.6" fill="rgba(128,128,128,0.3)" stroke="rgba(128,128,128,0.3)" stroke-width="0.8"/>
<circle cx="132.55" cy="201.1" r="2.6" fill="rgba(128,128,128,0.3)" stroke="rgba(128,128,128,0.3)" stroke-width="0.8"/>
<circle cx="148.48" cy="50.3" r="2.6" fill="rgba(128,128,128,0.3)" stroke="rgba(128,128,128,0.3)" stroke-width="0.8"/>
<circle cx="289.56" cy="125.8" r="2.6" fill="rgba(128,128,128,0.3)" stroke="rgba(128,128,128,0.3)" stroke-width="0.8"/>
<circle cx="111.71" cy="201.1" r="2.6" fill="rgba(128,128,128,0.3)" stroke="rgba(128,128,128,0.3)" stroke-width="0.8"/>
<circle cx="144.30" cy="50.3" r="2.6" fill="rgba(128,128,128,0.3)" stroke="rgba(128,128,128,0.3)" stroke-width="0.8"/>
<circle cx="328.92" cy="125.8" r="2.6" fill="rgba(128,128,128,0.3)" stroke="rgba(128,128,128,0.3)" stroke-width="0.8"/>
<circle cx="147.67" cy="201.1" r="2.6" fill="rgba(128,128,128,0.3)" stroke="rgba(128,128,128,0.3)" stroke-width="0.8"/>
<circle cx="133.36" cy="50.3" r="2.6" fill="rgba(128,128,128,0.3)" stroke="rgba(128,128,128,0.3)" stroke-width="0.8"/>
<circle cx="375.00" cy="125.8" r="2.6" fill="rgba(128,128,128,0.3)" stroke="rgba(128,128,128,0.3)" stroke-width="0.8"/>
<circle cx="112.65" cy="201.1" r="2.6" fill="rgba(128,128,128,0.3)" stroke="rgba(128,128,128,0.3)" stroke-width="0.8"/>
<circle cx="161.60" cy="50.3" r="2.6" fill="rgba(128,128,128,0.3)" stroke="rgba(128,128,128,0.3)" stroke-width="0.8"/>
<circle cx="425.88" cy="125.8" r="2.6" fill="rgba(128,128,128,0.3)" stroke="rgba(128,128,128,0.3)" stroke-width="0.8"/>
<circle cx="135.38" cy="201.1" r="2.6" fill="rgba(128,128,128,0.3)" stroke="rgba(128,128,128,0.3)" stroke-width="0.8"/>
<circle cx="121.41" cy="50.3" r="2.6" fill="rgba(128,128,128,0.3)" stroke="rgba(128,128,128,0.3)" stroke-width="0.8"/>
<circle cx="231.00" cy="125.8" r="2.6" fill="rgba(128,128,128,0.3)" stroke="rgba(128,128,128,0.3)" stroke-width="0.8"/>
<circle cx="135.22" cy="201.1" r="2.6" fill="rgba(128,128,128,0.3)" stroke="rgba(128,128,128,0.3)" stroke-width="0.8"/>
<circle cx="163.42" cy="50.3" r="2.6" fill="rgba(128,128,128,0.3)" stroke="rgba(128,128,128,0.3)" stroke-width="0.8"/>
<circle cx="241.56" cy="125.8" r="2.6" fill="rgba(128,128,128,0.3)" stroke="rgba(128,128,128,0.3)" stroke-width="0.8"/>
<circle cx="116.57" cy="201.1" r="2.6" fill="rgba(128,128,128,0.3)" stroke="rgba(128,128,128,0.3)" stroke-width="0.8"/>
<circle cx="156.08" cy="50.3" r="2.6" fill="rgba(128,128,128,0.3)" stroke="rgba(128,128,128,0.3)" stroke-width="0.8"/>
<circle cx="257.88" cy="125.8" r="2.6" fill="rgba(128,128,128,0.3)" stroke="rgba(128,128,128,0.3)" stroke-width="0.8"/>
<circle cx="136.30" cy="201.1" r="2.6" fill="rgba(128,128,128,0.3)" stroke="rgba(128,128,128,0.3)" stroke-width="0.8"/>
<circle cx="122.70" cy="50.3" r="2.6" fill="rgba(128,128,128,0.3)" stroke="rgba(128,128,128,0.3)" stroke-width="0.8"/>
<circle cx="263.64" cy="125.8" r="2.6" fill="rgba(128,128,128,0.3)" stroke="rgba(128,128,128,0.3)" stroke-width="0.8"/>
<circle cx="115.57" cy="201.1" r="2.6" fill="rgba(128,128,128,0.3)" stroke="rgba(128,128,128,0.3)" stroke-width="0.8"/>
<circle cx="161.38" cy="50.3" r="2.6" fill="rgba(128,128,128,0.3)" stroke="rgba(128,128,128,0.3)" stroke-width="0.8"/>
<circle cx="219.48" cy="125.8" r="2.6" fill="rgba(128,128,128,0.3)" stroke="rgba(128,128,128,0.3)" stroke-width="0.8"/>
<circle cx="121.85" cy="201.1" r="2.6" fill="rgba(128,128,128,0.3)" stroke="rgba(128,128,128,0.3)" stroke-width="0.8"/>
<line x1="80.40" y1="11.90" x2="80.40" y2="239.50" stroke="#262626" stroke-width="1.0" />
<line x1="79.90" y1="239.00" x2="656.00" y2="239.00" stroke="#262626" stroke-width="1.15" />
<line x1="76.70" y1="50.30" x2="80.40" y2="50.30" stroke="#262626" stroke-width="1.0" />
<text x="72.80" y="55.20" text-anchor="end" font-size="8.33" >Frozen</text>
<line x1="76.70" y1="125.80" x2="80.40" y2="125.80" stroke="#262626" stroke-width="1.0" />
<text x="72.80" y="130.70" text-anchor="end" font-size="8.33" >FFPE</text>
<line x1="76.70" y1="201.10" x2="80.40" y2="201.10" stroke="#262626" stroke-width="1.0" />
<text x="72.80" y="206.00" text-anchor="end" font-size="8.33" >Filtered</text>
<line x1="106.20" y1="239.00" x2="106.20" y2="242.90" stroke="#262626" stroke-width="1.0" />
<text x="106.20" y="256.00" text-anchor="middle" font-size="8.33" >0</text>
<line x1="202.20" y1="239.00" x2="202.20" y2="242.90" stroke="#262626" stroke-width="1.0" />
<text x="202.20" y="256.00" text-anchor="middle" font-size="8.33" >10</text>
<line x1="298.20" y1="239.00" x2="298.20" y2="242.90" stroke="#262626" stroke-width="1.0" />
<text x="298.20" y="256.00" text-anchor="middle" font-size="8.33" >20</text>
<line x1="394.20" y1="239.00" x2="394.20" y2="242.90" stroke="#262626" stroke-width="1.0" />
<text x="394.20" y="256.00" text-anchor="middle" font-size="8.33" >30</text>
<line x1="490.20" y1="239.00" x2="490.20" y2="242.90" stroke="#262626" stroke-width="1.0" />
<text x="490.20" y="256.00" text-anchor="middle" font-size="8.33" >40</text>
<line x1="586.20" y1="239.00" x2="586.20" y2="242.90" stroke="#262626" stroke-width="1.0" />
<text x="586.20" y="256.00" text-anchor="middle" font-size="8.33" >50</text>
<text x="368.00" y="273.00" text-anchor="middle" font-size="8.33" >Genomewide TMB</text>
<text x="1.50" y="275.10" text-anchor="start" font-size="8.33" >b</text>
<text x="369.20" y="304.00" text-anchor="middle" font-size="8.33" >High Contribution SNV Signatures</text>
<rect x="82.40" y="317.10" width="58.60" height="30.40" fill="#0173b2"/>
<rect x="141.00" y="317.10" width="54.00" height="30.40" fill="#de8f05"/>
<rect x="195.00" y="317.10" width="26.10" height="30.40" fill="#d55e00"/>
<rect x="221.10" y="317.10" width="171.30" height="30.40" fill="#cc78bc"/>
<rect x="82.40" y="351.30" width="42.50" height="30.50" fill="#0173b2"/>
<rect x="124.90" y="351.30" width="63.70" height="30.50" fill="#de8f05"/>
<rect x="188.60" y="351.30" width="213.80" height="30.50" fill="#029e73"/>
<rect x="402.40" y="351.30" width="54.40" height="30.50" fill="#d55e00"/>
<rect x="456.80" y="351.30" width="171.20" height="30.50" fill="#cc78bc"/>
<rect x="82.40" y="385.10" width="70.70" height="30.60" fill="#0173b2"/>
<rect x="153.10" y="385.10" width="36.90" height="30.60" fill="#de8f05"/>
<rect x="190.00" y="385.10" width="17.40" height="30.60" fill="#d55e00"/>
<rect x="207.40" y="385.10" width="167.30" height="30.60" fill="#cc78bc"/>
<line x1="82.40" y1="308.50" x2="82.40" y2="424.80" stroke="#262626" stroke-width="0.8" />
<line x1="82.00" y1="424.40" x2="656.00" y2="424.40" stroke="#262626" stroke-width="0.8" />
<line x1="79.50" y1="332.50" x2="82.40" y2="332.50" stroke="#262626" stroke-width="0.8" />
<text x="76.70" y="336.50" text-anchor="end" font-size="8.33" >FF</text>
<line x1="79.50" y1="366.50" x2="82.40" y2="366.50" stroke="#262626" stroke-width="0.8" />
<text x="76.70" y="370.50" text-anchor="end" font-size="8.33" >FFPE</text>
<line x1="79.50" y1="400.30" x2="82.40" y2="400.30" stroke="#262626" stroke-width="0.8" />
<text x="76.70" y="404.30" text-anchor="end" font-size="8.33" >Filtered</text>
<line x1="82.40" y1="424.40" x2="82.40" y2="427.30" stroke="#262626" stroke-width="0.8" />
<text x="82.40" y="438.00" text-anchor="middle" font-size="8.33" >0.0</text>
<line x1="177.63" y1="424.40" x2="177.63" y2="427.30" stroke="#262626" stroke-width="0.8" />
<text x="177.63" y="438.00" text-anchor="middle" font-size="8.33" >0.1</text>
<line x1="272.86" y1="424.40" x2="272.86" y2="427.30" stroke="#262626" stroke-width="0.8" />
<text x="272.86" y="438.00" text-anchor="middle" font-size="8.33" >0.2</text>
<line x1="368.09" y1="424.40" x2="368.09" y2="427.30" stroke="#262626" stroke-width="0.8" />
<text x="368.09" y="438.00" text-anchor="middle" font-size="8.33" >0.3</text>
<line x1="463.32" y1="424.40" x2="463.32" y2="427.30" stroke="#262626" stroke-width="0.8" />
<text x="463.32" y="438.00" text-anchor="middle" font-size="8.33" >0.4</text>
<line x1="558.55" y1="424.40" x2="558.55" y2="427.30" stroke="#262626" stroke-width="0.8" />
<text x="558.55" y="438.00" text-anchor="middle" font-size="8.33" >0.5</text>
<line x1="653.78" y1="424.40" x2="653.78" y2="427.30" stroke="#262626" stroke-width="0.8" />
<text x="653.78" y="438.00" text-anchor="middle" font-size="8.33" >0.6</text>
<text x="369.20" y="450.20" text-anchor="middle" font-size="8.33" >Median Contribution Percentage</text>
<text transform="translate(15.0,365.6) rotate(-90)" text-anchor="middle" font-size="8.33">Tissue Type</text>
<rect x="636.70" y="328.80" width="16.30" height="5.70" fill="#0173b2"/>
<text x="659.40" y="334.60" text-anchor="start" font-size="8.33" >SBS1</text>
<rect x="636.70" y="340.85" width="16.30" height="5.70" fill="#de8f05"/>
<text x="659.40" y="346.65" text-anchor="start" font-size="8.33" >SBS8</text>
<rect x="636.70" y="352.90" width="16.30" height="5.70" fill="#029e73"/>
<text x="659.40" y="358.70" text-anchor="start" font-size="8.33" >SBS37</text>
<rect x="636.70" y="364.95" width="16.30" height="5.70" fill="#d55e00"/>
<text x="659.40" y="370.75" text-anchor="start" font-size="8.33" >SBS39</text>
<rect x="636.70" y="377.00" width="16.30" height="5.70" fill="#cc78bc"/>
<text x="659.40" y="382.80" text-anchor="start" font-size="8.33" >SBS40</text>
<text x="0.20" y="457.00" text-anchor="start" font-size="8.33" >c</text>
<text x="368.20" y="473.60" text-anchor="middle" font-size="8.33" >High Contribution Indel Signatures</text>
<rect x="80.40" y="486.30" width="207.80" height="30.20" fill="#0173b2"/>
<rect x="288.20" y="486.30" width="174.30" height="30.20" fill="#de8f05"/>
<rect x="462.50" y="486.30" width="19.70" height="30.20" fill="#029e73"/>
<rect x="482.20" y="486.30" width="30.00" height="30.20" fill="#d55e00"/>
<rect x="512.20" y="486.30" width="17.90" height="30.20" fill="#cc78bc"/>
<rect x="530.10" y="486.30" width="7.20" height="30.20" fill="#ca9161"/>
<rect x="80.40" y="520.00" width="188.90" height="30.20" fill="#0173b2"/>
<rect x="269.30" y="520.00" width="311.60" height="30.20" fill="#de8f05"/>
<rect x="580.90" y="520.00" width="14.00" height="30.20" fill="#029e73"/>
<rect x="594.90" y="520.00" width="11.10" height="30.20" fill="#d55e00"/>
<rect x="606.00" y="520.00" width="21.80" height="30.20" fill="#ca9161"/>
<rect x="80.40" y="553.80" width="188.20" height="30.00" fill="#0173b2"/>
<rect x="268.60" y="553.80" width="144.40" height="30.00" fill="#de8f05"/>
<rect x="413.00" y="553.80" width="25.70" height="30.00" fill="#029e73"/>
<rect x="438.70" y="553.80" width="33.10" height="30.00" fill="#d55e00"/>
<rect x="471.80" y="553.80" width="17.20" height="30.00" fill="#cc78bc"/>
<rect x="489.00" y="553.80" width="25.00" height="30.00" fill="#ca9161"/>
<line x1="80.40" y1="477.90" x2="80.40" y2="592.50" stroke="#262626" stroke-width="0.8" />
<line x1="80.00" y1="592.10" x2="656.00" y2="592.10" stroke="#262626" stroke-width="0.8" />
<line x1="77.50" y1="501.40" x2="80.40" y2="501.40" stroke="#262626" stroke-width="0.8" />
<text x="74.70" y="505.40" text-anchor="end" font-size="8.33" >FF</text>
<line x1="77.50" y1="535.30" x2="80.40" y2="535.30" stroke="#262626" stroke-width="0.8" />
<text x="74.70" y="539.30" text-anchor="end" font-size="8.33" >FFPE</text>
<line x1="77.50" y1="569.00" x2="80.40" y2="569.00" stroke="#262626" stroke-width="0.8" />
<text x="74.70" y="573.00" text-anchor="end" font-size="8.33" >Filtered</text>
<line x1="80.40" y1="592.10" x2="80.40" y2="595.00" stroke="#262626" stroke-width="0.8" />
<text x="80.40" y="605.20" text-anchor="middle" font-size="8.33" >0.0</text>
<line x1="150.11" y1="592.10" x2="150.11" y2="595.00" stroke="#262626" stroke-width="0.8" />
<text x="150.11" y="605.20" text-anchor="middle" font-size="8.33" >0.1</text>
<line x1="219.82" y1="592.10" x2="219.82" y2="595.00" stroke="#262626" stroke-width="0.8" />
<text x="219.82" y="605.20" text-anchor="middle" font-size="8.33" >0.2</text>
<line x1="289.53" y1="592.10" x2="289.53" y2="595.00" stroke="#262626" stroke-width="0.8" />
<text x="289.53" y="605.20" text-anchor="middle" font-size="8.33" >0.3</text>
<line x1="359.24" y1="592.10" x2="359.24" y2="595.00" stroke="#262626" stroke-width="0.8" />
<text x="359.24" y="605.20" text-anchor="middle" font-size="8.33" >0.4</text>
<line x1="428.95" y1="592.10" x2="428.95" y2="595.00" stroke="#262626" stroke-width="0.8" />
<text x="428.95" y="605.20" text-anchor="middle" font-size="8.33" >0.5</text>
<line x1="498.66" y1="592.10" x2="498.66" y2="595.00" stroke="#262626" stroke-width="0.8" />
<text x="498.66" y="605.20" text-anchor="middle" font-size="8.33" >0.6</text>
<line x1="568.37" y1="592.10" x2="568.37" y2="595.00" stroke="#262626" stroke-width="0.8" />
<text x="568.37" y="605.20" text-anchor="middle" font-size="8.33" >0.7</text>
<line x1="638.08" y1="592.10" x2="638.08" y2="595.00" stroke="#262626" stroke-width="0.8" />
<text x="638.08" y="605.20" text-anchor="middle" font-size="8.33" >0.8</text>
<text x="368.20" y="618.40" text-anchor="middle" font-size="8.33" >Median Contribution Percentage</text>
<text transform="translate(15.0,535.0) rotate(-90)" text-anchor="middle" font-size="8.33">Tissue Type</text>
<rect x="636.70" y="499.70" width="16.30" height="5.70" fill="#0173b2"/>
<text x="659.40" y="505.50" text-anchor="start" font-size="8.33" >ID1</text>
<rect x="636.70" y="511.58" width="16.30" height="5.70" fill="#de8f05"/>
<text x="659.40" y="517.38" text-anchor="start" font-size="8.33" >ID2</text>
<rect x="636.70" y="523.46" width="16.30" height="5.70" fill="#029e73"/>
<text x="659.40" y="529.26" text-anchor="start" font-size="8.33" >ID3</text>
<rect x="636.70" y="535.34" width="16.30" height="5.70" fill="#d55e00"/>
<text x="659.40" y="541.14" text-anchor="start" font-size="8.33" >ID8</text>
<rect x="636.70" y="547.22" width="16.30" height="5.70" fill="#cc78bc"/>
<text x="659.40" y="553.02" text-anchor="start" font-size="8.33" >ID9</text>
<rect x="636.70" y="559.10" width="16.30" height="5.70" fill="#ca9161"/>
<text x="659.40" y="564.90" text-anchor="start" font-size="8.33" >ID12</text>
<text x="-0.50" y="632.50" text-anchor="start" font-size="8.33" >d</text>
<rect x="81.40" y="655.40" width="257.40" height="78.87" fill="#ffcccc"/>
<line x1="81.40" y1="656.11" x2="338.80" y2="656.11" stroke="#f6a4a4" stroke-width="0.8" stroke-dasharray="2.9,1.6"/>
<line x1="81.40" y1="734.27" x2="338.80" y2="734.27" stroke="#fa0a0a" stroke-width="1.6" stroke-dasharray="4.8,2.05"/>
<polyline points="124.50,666.50 210.00,773.12 295.50,666.50" fill="none" stroke="#808080" stroke-width="2.5" stroke-linejoin="round"/>
<polyline points="124.50,667.63 210.00,783.29 295.50,668.76" fill="none" stroke="#808080" stroke-width="2.5" stroke-linejoin="round"/>
<polyline points="124.50,666.50 210.00,845.41 295.50,667.63" fill="none" stroke="#808080" stroke-width="2.5" stroke-linejoin="round"/>
<polyline points="124.50,668.76 210.00,892.40 295.50,669.89" fill="none" stroke="#808080" stroke-width="2.5" stroke-linejoin="round"/>
<polyline points="124.50,711.68 210.00,865.29 295.50,699.71" fill="none" stroke="#808080" stroke-width="2.5" stroke-linejoin="round"/>
<polyline points="124.50,768.15 210.00,892.40 295.50,674.41" fill="none" stroke="#808080" stroke-width="2.5" stroke-linejoin="round"/>
<polyline points="124.50,807.69 210.00,891.72 295.50,720.72" fill="none" stroke="#808080" stroke-width="2.5" stroke-linejoin="round"/>
<circle cx="124.50" cy="666.50" r="3.6" fill="#808080"/>
<circle cx="210.00" cy="773.12" r="3.6" fill="#808080"/>
<circle cx="295.50" cy="666.50" r="3.6" fill="#808080"/>
<circle cx="124.50" cy="667.63" r="3.6" fill="#808080"/>
<circle cx="210.00" cy="783.29" r="3.6" fill="#808080"/>
<circle cx="295.50" cy="668.76" r="3.6" fill="#808080"/>
<circle cx="124.50" cy="666.50" r="3.6" fill="#808080"/>
<circle cx="210.00" cy="845.41" r="3.6" fill="#808080"/>
<circle cx="295.50" cy="667.63" r="3.6" fill="#808080"/>
<circle cx="124.50" cy="668.76" r="3.6" fill="#808080"/>
<circle cx="210.00" cy="892.40" r="3.6" fill="#808080"/>
<circle cx="295.50" cy="669.89" r="3.6" fill="#808080"/>
<circle cx="124.50" cy="711.68" r="3.6" fill="#808080"/>
<circle cx="210.00" cy="865.29" r="3.6" fill="#808080"/>
<circle cx="295.50" cy="699.71" r="3.6" fill="#808080"/>
<circle cx="124.50" cy="768.15" r="3.6" fill="#808080"/>
<circle cx="210.00" cy="892.40" r="3.6" fill="#808080"/>
<circle cx="295.50" cy="674.41" r="3.6" fill="#808080"/>
<circle cx="124.50" cy="807.69" r="3.6" fill="#808080"/>
<circle cx="210.00" cy="891.72" r="3.6" fill="#808080"/>
<circle cx="295.50" cy="720.72" r="3.6" fill="#808080"/>
<text x="210.10" y="650.20" text-anchor="middle" font-size="8.33" >HRDetect Scores</text>
<line x1="81.40" y1="655.11" x2="81.40" y2="903.70" stroke="#262626" stroke-width="1.0" />
<line x1="81.00" y1="903.30" x2="338.80" y2="903.30" stroke="#262626" stroke-width="1.0" />
<line x1="78.20" y1="892.40" x2="81.40" y2="892.40" stroke="#262626" stroke-width="1.0" />
<text x="75.40" y="896.70" text-anchor="end" font-size="8.33" >0.0</text>
<line x1="78.20" y1="847.22" x2="81.40" y2="847.22" stroke="#262626" stroke-width="1.0" />
<text x="75.40" y="851.52" text-anchor="end" font-size="8.33" >0.2</text>
<line x1="78.20" y1="802.04" x2="81.40" y2="802.04" stroke="#262626" stroke-width="1.0" />
<text x="75.40" y="806.34" text-anchor="end" font-size="8.33" >0.4</text>
<line x1="78.20" y1="756.86" x2="81.40" y2="756.86" stroke="#262626" stroke-width="1.0" />
<text x="75.40" y="761.16" text-anchor="end" font-size="8.33" >0.6</text>
<line x1="78.20" y1="711.68" x2="81.40" y2="711.68" stroke="#262626" stroke-width="1.0" />
<text x="75.40" y="715.98" text-anchor="end" font-size="8.33" >0.8</text>
<line x1="78.20" y1="666.50" x2="81.40" y2="666.50" stroke="#262626" stroke-width="1.0" />
<text x="75.40" y="670.80" text-anchor="end" font-size="8.33" >1.0</text>
<line x1="124.50" y1="903.30" x2="124.50" y2="906.50" stroke="#262626" stroke-width="1.0" />
<text x="124.50" y="917.00" text-anchor="middle" font-size="8.33" >Frozen</text>
<line x1="210.00" y1="903.30" x2="210.00" y2="906.50" stroke="#262626" stroke-width="1.0" />
<text x="210.00" y="917.00" text-anchor="middle" font-size="8.33" >FFPE</text>
<line x1="295.50" y1="903.30" x2="295.50" y2="906.50" stroke="#262626" stroke-width="1.0" />
<text x="295.50" y="917.00" text-anchor="middle" font-size="8.33" >Filtered FFPE</text>
<text x="210.00" y="931.00" text-anchor="middle" font-size="8.33" >Specimen Type</text>
<text transform="translate(53.300000000000004,779.25) rotate(-90)" text-anchor="middle" font-size="8.33">Probability Score</text>
<rect x="399.30" y="654.33" width="257.50" height="123.82" fill="#ffcccc"/>
<line x1="399.30" y1="655.03" x2="656.80" y2="655.03" stroke="#f6a4a4" stroke-width="0.8" stroke-dasharray="2.9,1.6"/>
<line x1="399.30" y1="778.15" x2="656.80" y2="778.15" stroke="#fa0a0a" stroke-width="1.6" stroke-dasharray="4.8,2.05"/>
<circle cx="527.65" cy="748.38" r="3.6" fill="#996666"/>
<polyline points="441.90,705.99 527.65,730.79 613.40,713.43" fill="none" stroke="#808080" stroke-width="2.5" stroke-linejoin="round"/>
<polyline points="441.90,708.25 527.65,733.95 613.40,715.01" fill="none" stroke="#808080" stroke-width="2.5" stroke-linejoin="round"/>
<polyline points="441.90,712.75 527.65,748.38 613.40,716.14" fill="none" stroke="#808080" stroke-width="2.5" stroke-linejoin="round"/>
<polyline points="441.90,710.50 527.65,872.86 613.40,730.79" fill="none" stroke="#808080" stroke-width="2.5" stroke-linejoin="round"/>
<polyline points="441.90,715.01 527.65,890.90 613.40,739.14" fill="none" stroke="#808080" stroke-width="2.5" stroke-linejoin="round"/>
<polyline points="441.90,719.52 527.65,890.90 613.40,715.01" fill="none" stroke="#808080" stroke-width="2.5" stroke-linejoin="round"/>
<polyline points="441.90,720.65 527.65,889.77 613.40,713.88" fill="none" stroke="#808080" stroke-width="2.5" stroke-linejoin="round"/>
<polyline points="441.90,717.26 527.65,890.90 613.40,716.14" fill="none" stroke="#808080" stroke-width="2.5" stroke-linejoin="round"/>
<circle cx="441.90" cy="705.99" r="3.6" fill="#808080"/>
<circle cx="527.65" cy="730.79" r="3.6" fill="#808080"/>
<circle cx="613.40" cy="713.43" r="3.6" fill="#808080"/>
<circle cx="441.90" cy="708.25" r="3.6" fill="#808080"/>
<circle cx="527.65" cy="733.95" r="3.6" fill="#808080"/>
<circle cx="613.40" cy="715.01" r="3.6" fill="#808080"/>
<circle cx="441.90" cy="712.75" r="3.6" fill="#808080"/>
<circle cx="613.40" cy="716.14" r="3.6" fill="#808080"/>
<circle cx="441.90" cy="710.50" r="3.6" fill="#808080"/>
<circle cx="527.65" cy="872.86" r="3.6" fill="#808080"/>
<circle cx="613.40" cy="730.79" r="3.6" fill="#808080"/>
<circle cx="441.90" cy="715.01" r="3.6" fill="#808080"/>
<circle cx="527.65" cy="890.90" r="3.6" fill="#808080"/>
<circle cx="613.40" cy="739.14" r="3.6" fill="#808080"/>
<circle cx="441.90" cy="719.52" r="3.6" fill="#808080"/>
<circle cx="527.65" cy="890.90" r="3.6" fill="#808080"/>
<circle cx="613.40" cy="715.01" r="3.6" fill="#808080"/>
<circle cx="441.90" cy="720.65" r="3.6" fill="#808080"/>
<circle cx="527.65" cy="889.77" r="3.6" fill="#808080"/>
<circle cx="613.40" cy="713.88" r="3.6" fill="#808080"/>
<circle cx="441.90" cy="717.26" r="3.6" fill="#808080"/>
<circle cx="527.65" cy="890.90" r="3.6" fill="#808080"/>
<circle cx="613.40" cy="716.14" r="3.6" fill="#808080"/>
<text x="528.05" y="649.30" text-anchor="middle" font-size="8.33" >CHORD Scores</text>
<line x1="399.30" y1="654.03" x2="399.30" y2="902.80" stroke="#262626" stroke-width="1.0" />
<line x1="398.90" y1="902.40" x2="656.80" y2="902.40" stroke="#262626" stroke-width="1.0" />
<line x1="396.10" y1="890.90" x2="399.30" y2="890.90" stroke="#262626" stroke-width="1.0" />
<text x="393.30" y="895.20" text-anchor="end" font-size="8.33" >0.0</text>
<line x1="396.10" y1="845.80" x2="399.30" y2="845.80" stroke="#262626" stroke-width="1.0" />
<text x="393.30" y="850.10" text-anchor="end" font-size="8.33" >0.2</text>
<line x1="396.10" y1="800.70" x2="399.30" y2="800.70" stroke="#262626" stroke-width="1.0" />
<text x="393.30" y="805.00" text-anchor="end" font-size="8.33" >0.4</text>
<line x1="396.10" y1="755.60" x2="399.30" y2="755.60" stroke="#262626" stroke-width="1.0" />
<text x="393.30" y="759.90" text-anchor="end" font-size="8.33" >0.6</text>
<line x1="396.10" y1="710.50" x2="399.30" y2="710.50" stroke="#262626" stroke-width="1.0" />
<text x="393.30" y="714.80" text-anchor="end" font-size="8.33" >0.8</text>
<line x1="396.10" y1="665.40" x2="399.30" y2="665.40" stroke="#262626" stroke-width="1.0" />
<text x="393.30" y="669.70" text-anchor="end" font-size="8.33" >1.0</text>
<line x1="441.90" y1="902.40" x2="441.90" y2="905.60" stroke="#262626" stroke-width="1.0" />
<text x="441.90" y="916.10" text-anchor="middle" font-size="8.33" >Frozen</text>
<line x1="527.65" y1="902.40" x2="527.65" y2="905.60" stroke="#262626" stroke-width="1.0" />
<text x="527.65" y="916.10" text-anchor="middle" font-size="8.33" >FFPE</text>
<line x1="613.40" y1="902.40" x2="613.40" y2="905.60" stroke="#262626" stroke-width="1.0" />
<text x="613.40" y="916.10" text-anchor="middle" font-size="8.33" >Filtered FFPE</text>
<text x="527.65" y="930.10" text-anchor="middle" font-size="8.33" >Specimen Type</text>
<text transform="translate(371.2,778.26) rotate(-90)" text-anchor="middle" font-size="8.33">Probability Score</text>
</svg>
</body></html>
